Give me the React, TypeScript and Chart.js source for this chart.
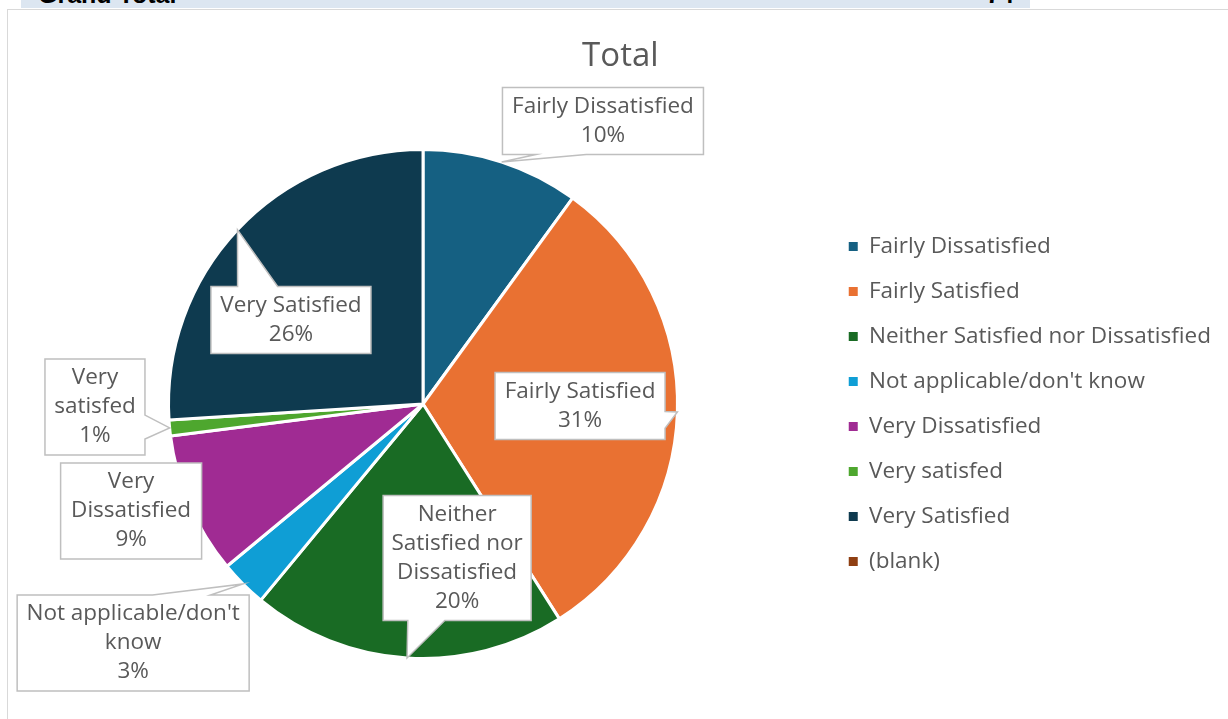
import React, { useEffect, useRef } from "react";
import { Chart, registerables } from "chart.js";

Chart.register(...registerables);

const categories = [
  "Fairly Dissatisfied",
  "Fairly Satisfied",
  "Neither Satisfied nor Dissatisfied",
  "Not applicable/don't know",
  "Very Dissatisfied",
  "Very satisfed",
  "Very Satisfied",
  "(blank)",
];
const shares = [10, 31, 20, 3, 9, 1, 26, 0];
const sliceColors = [
  "#156082",
  "#E97132",
  "#196B24",
  "#0F9ED5",
  "#A02B93",
  "#4EA72E",
  "#0E3A4F",
  "#8F3F12",
];
const chartTitle = "Total";
const pivotRowLabel = "Grand Total";
const pivotRowValue = "74";

const FONT = "'Open Sans', sans-serif";
const TEXT = "#595959";
const FONT_SIZE = 22.5;

function wrapText(ctx: CanvasRenderingContext2D, text: string, maxW: number): string[] {
  const words = text.split(" ");
  const lines: string[] = [];
  let cur = "";
  for (const w of words) {
    const t = cur ? cur + " " + w : w;
    if (cur && ctx.measureText(t).width > maxW) {
      lines.push(cur);
      cur = w;
    } else {
      cur = t;
    }
  }
  if (cur) lines.push(cur);
  return lines;
}

const calloutPlugin = {
  id: "callouts",
  afterDatasetsDraw(chart: any, _args: any, opts: any) {
    const meta = chart.getDatasetMeta(0);
    const data = chart.data.datasets[0].data as number[];
    const total = data.reduce((a: number, b: number) => a + b, 0);
    const ctx: CanvasRenderingContext2D = chart.ctx;
    ctx.save();
    ctx.font = `${opts.fontSize}px ${opts.fontFamily}`;
    meta.data.forEach((arc: any, i: number) => {
      const v = data[i];
      const place = opts.placements[i];
      if (!v || !place) return;
      const p = arc.getProps(["x", "y", "startAngle", "endAngle", "outerRadius"], true);
      const mid = (p.startAngle + p.endAngle) / 2;
      const R = p.outerRadius;
      const tipX = p.x + Math.cos(mid) * R;
      const tipY = p.y + Math.sin(mid) * R;
      const w = place.w;
      const lines = wrapText(ctx, String(chart.data.labels[i]), w - 2 * opts.padX + 6);
      lines.push(Math.round((v / total) * 100) + "%");
      const h = lines.length * opts.lineHeight + 2 * opts.padY;
      const cx = p.x + place.dx * R;
      const cy = p.y + place.dy * R;
      const l = cx - w / 2;
      const t = cy - h / 2;
      const r = l + w;
      const b = t + h;
      const inside = tipX >= l && tipX <= r && tipY >= t && tipY <= b;
      const dxPos = tipX - cx;
      const dyPos = tipY - cy;
      const vertical = Math.abs(dyPos) > Math.abs((dxPos * h) / w);
      const x1 = l + (w * (dxPos > 0 ? 7 : 2)) / 12;
      const x2 = l + (w * (dxPos > 0 ? 10 : 5)) / 12;
      const y1 = t + (h * (dyPos > 0 ? 7 : 2)) / 12;
      const y2 = t + (h * (dyPos > 0 ? 10 : 5)) / 12;
      ctx.beginPath();
      ctx.moveTo(l, t);
      if (!inside && vertical && dyPos < 0) {
        ctx.lineTo(x1, t);
        ctx.lineTo(tipX, tipY);
        ctx.lineTo(x2, t);
      }
      ctx.lineTo(r, t);
      if (!inside && !vertical && dxPos > 0) {
        ctx.lineTo(r, y1);
        ctx.lineTo(tipX, tipY);
        ctx.lineTo(r, y2);
      }
      ctx.lineTo(r, b);
      if (!inside && vertical && dyPos > 0) {
        ctx.lineTo(x2, b);
        ctx.lineTo(tipX, tipY);
        ctx.lineTo(x1, b);
      }
      ctx.lineTo(l, b);
      if (!inside && !vertical && dxPos < 0) {
        ctx.lineTo(l, y2);
        ctx.lineTo(tipX, tipY);
        ctx.lineTo(l, y1);
      }
      ctx.closePath();
      ctx.fillStyle = "#ffffff";
      ctx.fill();
      ctx.strokeStyle = opts.borderColor;
      ctx.lineWidth = opts.borderWidth;
      ctx.lineJoin = "miter";
      ctx.stroke();
      ctx.fillStyle = opts.color;
      ctx.textAlign = "center";
      ctx.textBaseline = "middle";
      lines.forEach((ln, k) => {
        ctx.fillText(ln, cx, t + opts.padY + opts.lineHeight * (k + 0.5));
      });
    });
    ctx.restore();
  },
};

export default function App() {
  const canvasRef = useRef<HTMLCanvasElement | null>(null);

  useEffect(() => {
    const canvas = canvasRef.current;
    if (!canvas) return;
    const chart = new Chart(canvas, {
      type: "pie",
      data: {
        labels: categories,
        datasets: [
          {
            data: shares,
            backgroundColor: sliceColors,
            borderColor: "#ffffff",
            borderWidth: 3,
          },
        ],
      },
      options: {
        responsive: false,
        animation: false,
        layout: { padding: { left: 11.8, right: 15.1, top: 0, bottom: 59 } },
        plugins: {
          title: {
            display: true,
            text: chartTitle,
            color: TEXT,
            font: { family: FONT, size: 33, weight: "normal" },
            padding: { top: 26.5, bottom: 71.9 },
          },
          legend: {
            position: "right",
            fullSize: false,
            labels: {
              boxWidth: 9,
              boxHeight: 9,
              padding: 45 - FONT_SIZE,
              color: TEXT,
              font: { family: FONT, size: FONT_SIZE },
              generateLabels: (c: any) => {
                const base = (Chart as any).overrides.pie.plugins.legend.labels.generateLabels(c);
                return base.map((it: any) => ({ ...it, lineWidth: 0, strokeStyle: "rgba(0,0,0,0)" }));
              },
            },
          },
          tooltip: { enabled: false },
          callouts: {
            fontSize: FONT_SIZE,
            fontFamily: FONT,
            color: TEXT,
            lineHeight: 29,
            padX: 10,
            padY: 4.5,
            borderColor: "#bfbfbf",
            borderWidth: 1.5,
            placements: [
              { dx: 0.707, dy: -1.112, w: 201 },
              { dx: 0.617, dy: 0.008, w: 170 },
              { dx: 0.134, dy: 0.605, w: 148 },
              { dx: -1.139, dy: 0.939, w: 232 },
              { dx: -1.147, dy: 0.42, w: 141 },
              { dx: -1.289, dy: 0.012, w: 100 },
              { dx: -0.519, dy: -0.33, w: 160 },
              null,
            ],
          },
        } as any,
      },
      plugins: [calloutPlugin],
    });
    return () => chart.destroy();
  }, []);

  return (
    <div
      style={{
        position: "fixed",
        left: 0,
        top: 0,
        width: 1228,
        height: 719,
        overflow: "hidden",
        background: "#ffffff",
      }}
    >
      <div
        style={{
          position: "absolute",
          left: 21,
          top: 0,
          width: 1009,
          height: 8,
          background: "#dce6f1",
          overflow: "hidden",
          fontFamily: "'Liberation Sans', Arial, sans-serif",
          fontWeight: "bold",
          fontSize: 25,
          lineHeight: "25px",
          color: "#000000",
        }}
      >
        <span style={{ position: "absolute", left: 17, top: -18, whiteSpace: "nowrap" }}>{pivotRowLabel}</span>
        <span style={{ position: "absolute", right: 16, top: -18, whiteSpace: "nowrap" }}>{pivotRowValue}</span>
      </div>
      <div
        style={{
          position: "absolute",
          left: 7,
          top: 9,
          width: 1300,
          height: 800,
          border: "1px solid #d9d9d9",
          boxSizing: "content-box",
        }}
      >
        <canvas ref={canvasRef} width={1228} height={709} style={{ display: "block" }} />
      </div>
    </div>
  );
}
